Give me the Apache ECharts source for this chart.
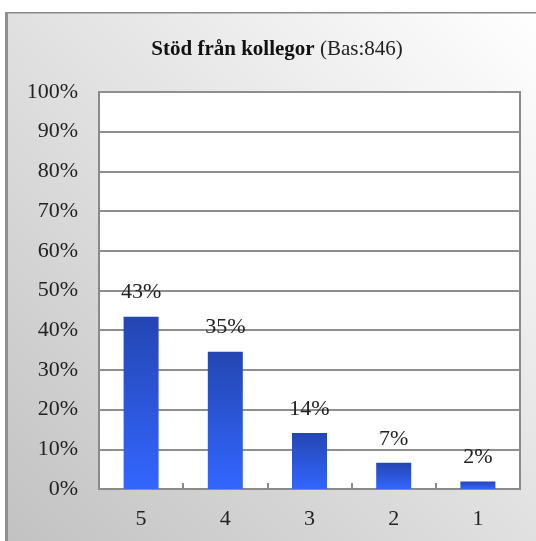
<!DOCTYPE html>
<html><head><meta charset="utf-8">
<script src="https://cdn.jsdelivr.net/npm/echarts@6/dist/echarts.min.js"></script>
<style>html,body{margin:0;padding:0;background:#fff}#c{width:536px;height:541px}</style>
</head><body><div id="c"></div>
<script>
const categories = ['5','4','3','2','1'];
const values = [43.4, 34.6, 14.1, 6.6, 1.9];
const labels = ['43%','35%','14%','7%','2%'];
const titleBold = 'Stöd från kollegor';
const titleNormal = ' (Bas:846)';

const chart = echarts.init(document.getElementById('c'));
const font = '"Liberation Serif", "DejaVu Serif", serif';
chart.setOption({
  animation: false,
  graphic: [
    {type:'rect', z:-10, shape:{x:6, y:12, width:530, height:529},
     style:{fill:new echarts.graphic.LinearGradient(1,0,0,1,[{offset:0,color:'#ffffff'},{offset:1,color:'#c2c2c2'}])}},
    {type:'rect', z:-9, shape:{x:6, y:12, width:530, height:1.5}, style:{fill:'#8a8a8a'}},
    {type:'rect', z:-9, shape:{x:5, y:12, width:3, height:529}, style:{fill:'#8f8f8f'}}
  ],
  title: {
    text: '{b|' + titleBold + '}{n|' + titleNormal + '}',
    left: 272, top: 34, textAlign: 'center',
    textStyle: {fontWeight: 'normal', rich: {
      b: {fontFamily: font, fontSize: 21, fontWeight: 'bold', color: '#111'},
      n: {fontFamily: font, fontSize: 21, fontWeight: 'normal', color: '#222'}
    }}
  },
  grid: {left: 99, right: 16, top: 92, bottom: 52, show: true, backgroundColor: '#fff', borderColor: '#8a8a8a', borderWidth: 2},
  xAxis: {
    type: 'category', data: categories,
    axisLine: {lineStyle: {color: '#8a8a8a', width: 2}},
    axisTick: {show: true, inside: true, length: 6, lineStyle: {color: '#8a8a8a', width: 2}},
    axisLabel: {fontFamily: font, fontSize: 22, color: '#222', margin: 19}
  },
  yAxis: {
    type: 'value', min: 0, max: 100, interval: 10,
    axisLine: {show: true, lineStyle: {color: '#8a8a8a', width: 2}},
    axisTick: {show: false},
    splitLine: {lineStyle: {color: '#8f8f8f', width: 2}},
    axisLabel: {fontFamily: font, fontSize: 22, color: '#222', margin: 21, formatter: '{value}%'}
  },
  series: [{
    type: 'bar', data: values, barWidth: 35,
    itemStyle: {color: new echarts.graphic.LinearGradient(0,0,0,1,[{offset:0,color:'#2446b2'},{offset:1,color:'#3366ff'}])},
    label: {show: true, position: 'top', distance: 13, fontFamily: font, fontSize: 22, color: '#222',
      formatter: p => labels[p.dataIndex]}
  }]
});
</script></body></html>
